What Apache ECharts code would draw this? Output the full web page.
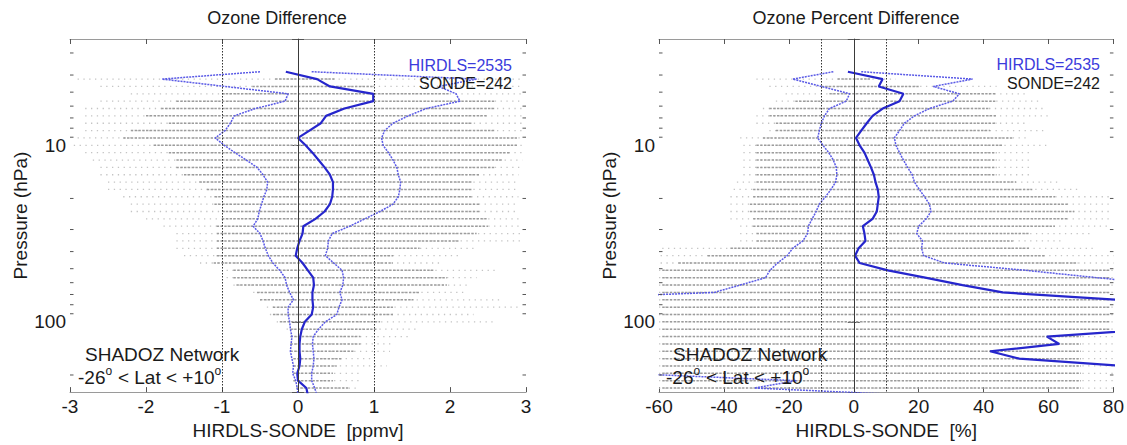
<!DOCTYPE html>
<html>
<head>
<meta charset="utf-8">
<script src="https://cdn.jsdelivr.net/npm/echarts@6/dist/echarts.min.js"></script>
<style>
html,body{margin:0;padding:0;background:#fff;}
#chart{width:1127px;height:445px;}
</style>
</head>
<body>
<div id="chart"></div>
<script>
// HIRDLS pressure levels (hPa), 24 per decade, from 3.83 to 261 hPa
const levels = [3.831, 4.217, 4.642, 5.109, 5.623, 6.190, 6.813, 7.499, 8.254, 9.085,
  10, 11.01, 12.12, 13.34, 14.68, 16.16, 17.78, 19.57, 21.54, 23.71,
  26.10, 28.73, 31.62, 34.81, 38.31, 42.17, 46.42, 51.09, 56.23, 61.90,
  68.13, 74.99, 82.54, 90.85, 100, 110.1, 121.2, 133.4, 146.8, 161.6,
  177.8, 195.7, 215.4, 237.1, 261.0];

// Left panel: HIRDLS-SONDE [ppmv]
const leftMean = [-0.16, 0.25, 0.42, 0.99, 0.99, 0.61, 0.37, 0.30, 0.15, 0.0,
  0.10, 0.19, 0.27, 0.35, 0.42, 0.46, 0.46, 0.45, 0.42, 0.35,
  0.23, 0.07, 0.06, 0.02, -0.01, -0.03, 0.06, 0.13, 0.20, 0.21,
  0.19, 0.19, 0.20, 0.18, 0.09, 0.05, 0.03, 0.02, 0.02, 0.03,
  0.02, -0.01, 0.00, 0.11, 0.13];
const leftLow = [-0.50, -1.79, -0.96, -0.13, -0.17, -0.56, -0.84, -0.89, -0.96, -1.09,
  -0.97, -0.83, -0.68, -0.54, -0.46, -0.40, -0.41, -0.45, -0.48, -0.51,
  -0.53, -0.59, -0.50, -0.46, -0.43, -0.39, -0.33, -0.24, -0.17, -0.15,
  -0.11, -0.06, -0.13, -0.13, -0.11, -0.10, -0.08, -0.09, -0.10, -0.08,
  -0.06, -0.07, -0.03, -0.01, 0.0];
const leftHigh = [0.18, 2.35, 1.85, 2.08, 2.13, 1.69, 1.45, 1.25, 1.14, 1.10,
  1.12, 1.19, 1.25, 1.30, 1.32, 1.35, 1.34, 1.32, 1.25, 1.08,
  0.88, 0.68, 0.45, 0.40, 0.39, 0.36, 0.47, 0.58, 0.60, 0.59,
  0.55, 0.58, 0.54, 0.51, 0.36, 0.27, 0.20, 0.19, 0.20, 0.21,
  0.20, 0.18, 0.18, 0.22, 0.25];
// Left panel individual-difference rows: sparse extent and dense core, per level
const leftSparseL = [null, -2.9, -2.6, -2.2, -2.6, -2.8, -2.8, -2.8, -2.8, -2.9,
  -2.95, -2.8, -2.7, -2.6, -2.6, -2.5, -2.5, -2.3, -2.2, -2.2,
  -2.0, -1.77, -1.6, -1.6, -1.6, -1.5, -1.29, -0.94, -0.94, -0.85,
  -0.59, -0.5, -0.41, -0.37, -0.28, -0.15, -0.1, -0.1, -0.1, -0.06,
  -0.06, -0.06, -0.06, -0.02, null];
const leftDenseL = [null, -0.3, -0.6, -1.0, -1.6, -1.8, -2.0, -1.7, -2.2, -2.3,
  -1.9, -1.7, -1.6, -1.6, -1.5, -1.3, -1.2, -1.1, -1.1, -1.0,
  -1.0, -1.07, -1.07, -1.07, -1.07, -1.07, -1.11, -0.85, -0.85, -0.81,
  -0.54, -0.5, -0.33, -0.33, -0.24, -0.1, -0.1, -0.1, -0.1, -0.06,
  -0.06, -0.06, -0.06, -0.02, null];
const leftDenseR = [null, 0.5, 1.0, 2.0, 2.6, 2.6, 2.5, 2.3, 2.6, 2.9,
  2.9, 2.8, 2.7, 2.6, 2.4, 2.3, 2.3, 2.3, 2.4, 2.4,
  2.5, 2.5, 2.35, 2.13, 1.6, 1.25, 1.25, 1.78, 1.96, 1.96,
  1.6, 1.52, 1.25, 1.25, 1.08, 1.04, 0.82, 0.82, 0.73, 0.59,
  0.51, 0.46, 0.46, 0.68, null];
const leftSparseR = [null, 2.95, 2.95, 2.95, 2.95, 2.95, 2.95, 2.95, 2.95, 2.95,
  2.95, 2.95, 2.95, 2.95, 2.9, 2.9, 2.9, 2.9, 2.9, 2.9,
  2.95, 2.96, 2.96, 2.96, 2.35, 2.13, 1.87, 2.61, 2.35, 2.22,
  2.22, 2.7, 2.92, 2.31, 2.61, 1.6, 1.47, 1.25, 1.21, 0.99,
  1.17, 0.82, 0.82, 0.77, null];

// Right panel: HIRDLS-SONDE [%]
const rightMean = [-1.8, 8.9, 7.7, 15.3, 14.1, 8.9, 5.8, 4.0, 2.3, 0.7,
  1.8, 3.3, 4.3, 5.3, 6.2, 6.7, 7.4, 7.7, 7.4, 7.1,
  5.8, 2.8, 3.3, 3.6, 1.5, 0.4, 1.8, 10.5, 22.0, 33.5,
  45.9, 81, 96, 104, 100, 93, 59.5, 63.3, 42.0, 51.0,
  83, 95, 100, 98, 96];
const rightLow = [-6.3, -18.8, -10.0, -1.3, -2.3, -7.5, -9.0, -10.0, -10.6, -11.1,
  -9.5, -7.7, -6.3, -5.4, -5.2, -5.6, -7.0, -8.7, -10.6, -11.6,
  -12.8, -14.0, -14.2, -15.7, -18.8, -20.5, -23.5, -25.8, -27.2, -35.0,
  -43.0, -100, -115, -125, -120, -115, -110, -105, -100, -95,
  -85, -71, -17.7, -30.6, 19.9];
const rightHigh = [2.3, 36.6, 24.5, 32.5, 30.5, 23.3, 18.7, 15.6, 14.1, 12.5,
  13.0, 14.1, 15.3, 16.6, 18.0, 18.7, 20.2, 21.8, 23.3, 23.8,
  22.3, 20.0, 19.4, 21.2, 20.9, 21.5, 28.0, 53, 75, 98,
  135, 262, 307, 333, 320, 301, 229, 231, 184, 197,
  251, 261, 218, 227, 175];
const rightSparseL = [null, -30, -26, -21, -24, -28, -30, -30, -26, -35,
  -34, -34, -34, -34, -34, -36, -37, -38, -38, -38,
  -38, -35, -35, -35, -59, -59.5, -59.5, -60, -60, -60,
  -60, -60, -60, -60, -60, -60, -60, -60, -60, -60,
  -60, -60, -60, -60, null];
const rightDenseL = [null, -5, -10, -7.5, -18, -26, -26, -24, -24, -28,
  -30, -30, -30, -30, -30, -30, -31, -31, -32, -32,
  -31, -31, -30, -30, -38, -45, -54, -59, -59, -59,
  -59, -59, -59, -59, -59, -59, -59, -59, -59, -59,
  -59, -59, -59, -59, null];
const rightDenseR = [null, 5, 20, 44, 44, 42, 44, 44, 42, 49,
  46, 44, 44, 44, 44, 50, 55, 62, 66, 68,
  66, 62, 54, 49, 54, 59, 69, 79, 79, 79,
  79, 79, 79, 79, 79, 79, 70, 70, 70, 70,
  70, 70, 70, 70, null];
const rightSparseR = [null, 13, 44, 54, 57, 59, 61, 54, 59, 54,
  60, 54, 54, 54, 54, 64, 70, 79, 79, 79,
  79, 78, 73, 64, 75, 80, 80, 80, 80, 80,
  80, 80, 80, 80, 80, 80, 80, 80, 80, 80,
  80, 80, 80, 80, null];

const minorTicks = [3, 4, 5, 6, 7, 8, 9, 20, 30, 40, 50, 60, 70, 80, 90, 200];
const xTicksLeft = [-3, 3, 1];
const xTicksRight = [-60, 80, 20];

const FONT = '"Liberation Sans", Arial, Helvetica, sans-serif';
const TXT = '#1a1a1a';
const BOX = '#9a9a9a';

function pairs(xs) { return xs.map((x, i) => [x, levels[i]]); }
function rows(sl, dl, dr, sr) {
  const out = [];
  for (let i = 0; i < levels.length; i++) {
    if (sl[i] == null) continue;
    out.push([levels[i], sl[i], dl[i], dr[i], sr[i]]);
  }
  return out;
}

function rowsRender(params, api) {
  const p = api.value(0);
  const a = api.coord([api.value(1), p]);
  const b = api.coord([api.value(2), p]);
  const c = api.coord([api.value(3), p]);
  const d = api.coord([api.value(4), p]);
  return {
    type: 'group',
    children: [
      { type: 'line', shape: { x1: a[0], y1: a[1], x2: d[0], y2: d[1] },
        style: { stroke: '#c4c4c4', lineWidth: 1.3, lineDash: [1.3, 4.5] } },
      { type: 'line', shape: { x1: b[0], y1: b[1], x2: c[0], y2: c[1] },
        style: { stroke: '#9c9c9c', lineWidth: 1.5, lineDash: [2.4, 1.4] } }
    ]
  };
}

function minorRender(params, api) {
  const y = api.coord([api.value(0), api.value(1)])[1];
  const cs = params.coordSys;
  return {
    type: 'group',
    children: [
      { type: 'line', shape: { x1: cs.x, y1: y, x2: cs.x + 3.5, y2: y }, style: { stroke: '#555', lineWidth: 1 } },
      { type: 'line', shape: { x1: cs.x + cs.width - 3.5, y1: y, x2: cs.x + cs.width, y2: y }, style: { stroke: '#555', lineWidth: 1 } }
    ]
  };
}

function yAx(grid, pos) {
  return {
    gridIndex: grid, type: 'log', logBase: 10, min: 2.5, max: 250, inverse: true,
    position: pos,
    name: pos === 'left' ? 'Pressure (hPa)' : '',
    nameLocation: 'middle', nameGap: 38,
    nameTextStyle: { fontSize: 19, color: TXT, fontFamily: FONT },
    axisLine: { show: true, lineStyle: { color: BOX, width: 1 } },
    axisTick: { show: true, inside: true, length: 6, lineStyle: { color: '#555' } },
    axisLabel: { show: pos === 'left', fontSize: 19, color: TXT, fontFamily: FONT, margin: 4,
      formatter: v => (Math.abs(v - 10) < 1e-6 || Math.abs(v - 100) < 1e-6) ? String(Math.round(v)) : '' },
    splitLine: { show: false }, minorTick: { show: false }
  };
}
function xAx(grid, pos, t, name) {
  return {
    gridIndex: grid, type: 'value', min: t[0], max: t[1], interval: t[2], position: pos,
    name: pos === 'bottom' ? name : '', nameLocation: 'middle', nameGap: 22,
    nameTextStyle: { fontSize: 19, color: TXT, fontFamily: FONT },
    axisLine: { show: true, onZero: false, lineStyle: { color: BOX, width: 1 } },
    axisTick: { show: true, inside: true, length: 5, lineStyle: { color: '#555' } },
    axisLabel: { show: pos === 'bottom', fontSize: 19, color: TXT, fontFamily: FONT, margin: 5 },
    splitLine: { show: false }
  };
}

function vlines(vals) {
  return {
    silent: true, symbol: 'none', animation: false, label: { show: false },
    data: vals.map(v => ({ xAxis: v, lineStyle: v === 0
      ? { type: 'solid', color: '#3a3a3a', width: 1 }
      : { type: [1.5, 1.5], color: '#333', width: 1 } }))
  };
}

function panelSeries(xi, yi, mean, low, high, rowData, vl) {
  const sigma = { color: '#5a5ae6', width: 1.5, type: [2, 1] };
  return [
    { type: 'custom', xAxisIndex: xi, yAxisIndex: yi, renderItem: rowsRender, clip: true,
      encode: { y: 0, x: [1, 2, 3, 4] }, data: rowData, z: 1, silent: true,
      markLine: vlines(vl) },
    { type: 'custom', xAxisIndex: xi, yAxisIndex: yi, renderItem: minorRender, clip: false,
      encode: { x: 0, y: 1 }, data: minorTicks.map(p => [0, p]), z: 4, silent: true },
    { type: 'line', xAxisIndex: xi, yAxisIndex: yi, data: pairs(low), symbol: 'none', clip: true,
      lineStyle: sigma, z: 3, silent: true },
    { type: 'line', xAxisIndex: xi, yAxisIndex: yi, data: pairs(high), symbol: 'none', clip: true,
      lineStyle: sigma, z: 3, silent: true },
    { type: 'line', xAxisIndex: xi, yAxisIndex: yi, data: pairs(mean), symbol: 'none', clip: true,
      lineStyle: { color: '#2626cc', width: 2.2 }, z: 3, silent: true }
  ];
}

function txt(text, x, y, size, color, align, lh) {
  return { type: 'text', z: 10, style: { text: text, x: x, y: y, fill: color,
    font: size + 'px ' + FONT, textAlign: align, textVerticalAlign: 'middle',
    align: align, verticalAlign: 'middle', lineHeight: lh || size } };
}
// measure text widths to lay out the superscript pieces of the latitude label
const meas = document.createElement('canvas').getContext('2d');
function tw(s, size) { meas.font = size + 'px ' + FONT; return meas.measureText(s).width; }
function latText(x0) {
  const parts = [['-26', 19, 377, 17], ['o', 12, 370.5, 7], [' < Lat < +10', 19, 377, 17], ['o', 12, 370.5, 7]];
  const out = [];
  let x = x0;
  parts.forEach(pt => {
    out.push(txt(pt[0], x, pt[2], pt[1], TXT, 'left', pt[3]));
    x += tw(pt[0], pt[1]) + (pt[1] === 12 ? 0.5 : 0);
  });
  return out;
}

const chart = echarts.init(document.getElementById('chart'), null, { renderer: 'svg' });
chart.setOption({
  animation: false,
  backgroundColor: '#fff',
  grid: [
    { left: 70, top: 39, width: 456, height: 360, containLabel: false },
    { left: 659, top: 39, width: 455, height: 360, containLabel: false }
  ],
  xAxis: [
    xAx(0, 'bottom', xTicksLeft, 'HIRDLS-SONDE  [ppmv]'),
    xAx(0, 'top', xTicksLeft, ''),
    xAx(1, 'bottom', xTicksRight, 'HIRDLS-SONDE  [%]'),
    xAx(1, 'top', xTicksRight, '')
  ],
  yAxis: [yAx(0, 'left'), yAx(0, 'right'), yAx(1, 'left'), yAx(1, 'right')],
  series: [].concat(
    panelSeries(0, 0, leftMean, leftLow, leftHigh, rows(leftSparseL, leftDenseL, leftDenseR, leftSparseR), [-1, 0, 1]),
    panelSeries(2, 2, rightMean, rightLow, rightHigh, rows(rightSparseL, rightDenseL, rightDenseR, rightSparseR), [-10, 0, 10])
  ),
  graphic: [
    txt('Ozone Difference', 277, 18, 18, TXT, 'center'),
    txt('Ozone Percent Difference', 856, 18, 18, TXT, 'center'),
    txt('HIRDLS=2535', 512, 65, 16, '#3b3bdc', 'right'),
    txt('SONDE=242', 512, 83, 16, TXT, 'right'),
    txt('HIRDLS=2535', 1100, 64, 16, '#3b3bdc', 'right'),
    txt('SONDE=242', 1100, 83, 16, TXT, 'right'),
    txt('SHADOZ Network', 85, 354.5, 19, TXT, 'left', 16),
    txt('SHADOZ Network', 673, 354.5, 19, TXT, 'left', 16)
  ].concat(latText(78), latText(666))
});
</script>
</body>
</html>
